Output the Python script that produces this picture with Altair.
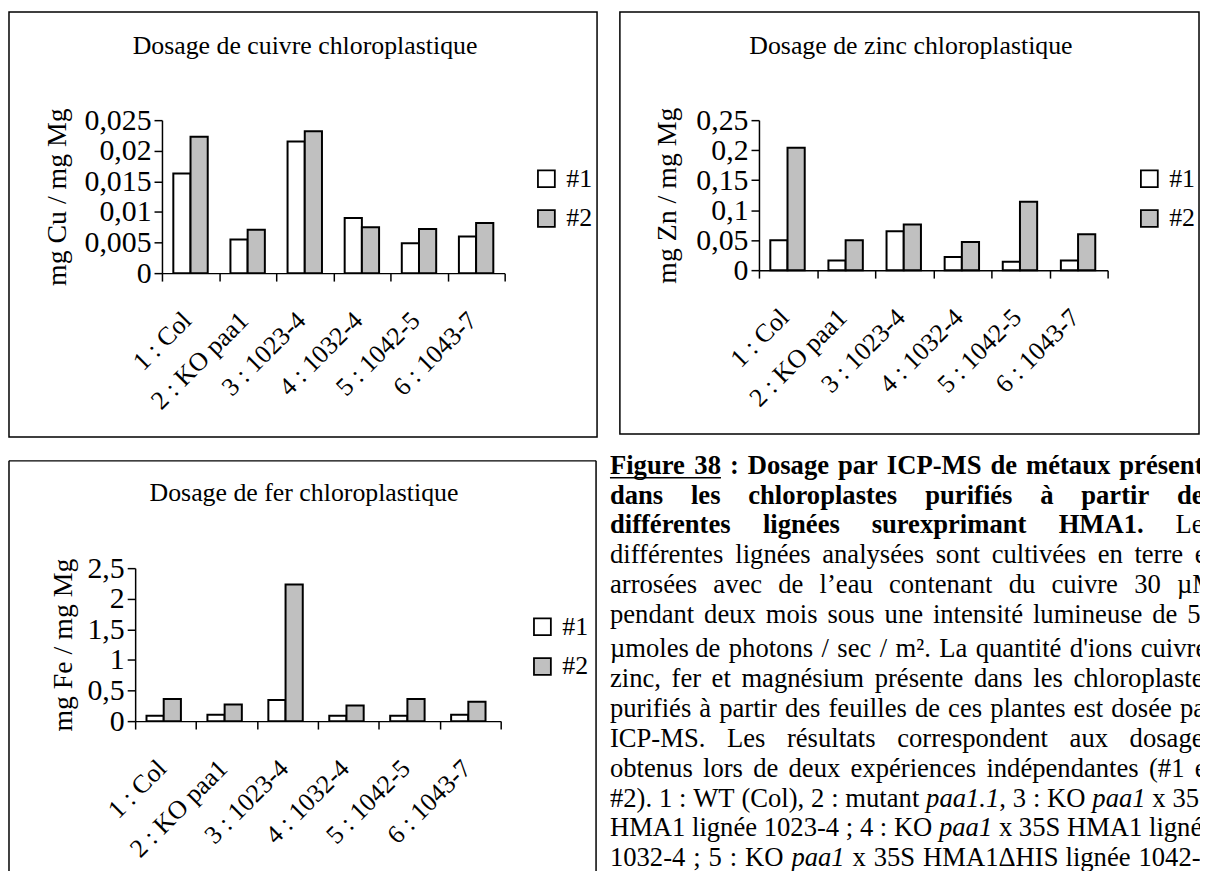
import altair as alt
import pandas as pd

FONT = "Liberation Serif"

# ---------------- data ----------------
categories = ["1 : Col", "2 : KO paa1", "3 : 1023-4", "4 : 1032-4", "5 : 1042-5", "6 : 1043-7"]
series = ["#1", "#2"]

cu_exp1 = [0.0163, 0.0055, 0.0215, 0.0090, 0.0049, 0.0060]
cu_exp2 = [0.0223, 0.0071, 0.0232, 0.0075, 0.0072, 0.0082]
zn_exp1 = [0.050, 0.016, 0.065, 0.022, 0.014, 0.016]
zn_exp2 = [0.204, 0.050, 0.076, 0.047, 0.114, 0.060]
fe_exp1 = [0.087, 0.103, 0.347, 0.087, 0.087, 0.103]
fe_exp2 = [0.363, 0.271, 2.234, 0.255, 0.363, 0.315]

cu_ticks = [0, 0.005, 0.01, 0.015, 0.02, 0.025]
zn_ticks = [0, 0.05, 0.1, 0.15, 0.2, 0.25]
fe_ticks = [0, 0.5, 1, 1.5, 2, 2.5]

titles = ["Dosage de cuivre chloroplastique", "Dosage de zinc chloroplastique",
          "Dosage de fer chloroplastique"]
y_titles = ["mg Cu / mg Mg", "mg Zn / mg Mg", "mg Fe / mg Mg"]

caption_lines = [
    [("bu", "Figure 38"), ("b", " : Dosage par ICP-MS de métaux présents")],
    [("b", "dans les chloroplastes purifiés à partir des")],
    [("b", "différentes lignées surexprimant HMA1."), ("n", " Les")],
    [("n", "différentes lignées analysées sont cultivées en terre et")],
    [("n", "arrosées avec de l’eau contenant du cuivre 30 µM")],
    [("n", "pendant deux mois sous une intensité lumineuse de 50")],
    [("n", "µmoles de photons / sec / m². La quantité d'ions cuivre,")],
    [("n", "zinc, fer et magnésium présente dans les chloroplastes")],
    [("n", "purifiés à partir des feuilles de ces plantes est dosée par")],
    [("n", "ICP-MS. Les résultats correspondent aux dosages")],
    [("n", "obtenus lors de deux expériences indépendantes (#1 et")],
    [("n", "#2). 1 : WT (Col), 2 : mutant "), ("i", "paa1.1"), ("n", ", 3 : KO "), ("i", "paa1"), ("n", " x 35S")],
    [("n", "HMA1 lignée 1023-4 ; 4 : KO "), ("i", "paa1"), ("n", " x 35S HMA1 lignée")],
    [("n", "1032-4 ; 5 : KO "), ("i", "paa1"), ("n", " x 35S HMA1ΔHIS lignée 1042-5")],
]

# ---------------- layout (pixels inside each cell) ----------------
L1 = dict(W=592, H=430, box=(0, 592, 1, 429), bottom=True, xr=(154, 499), yr=(264, 110),
          title_xy=(298, 35), ytitle_x=49, legend_xy=(528, 156))
L2 = dict(W=594, H=430, box=(10, 593, 1, 426), bottom=True, xr=(150, 501), yr=(261, 110),
          title_xy=(303, 35), ytitle_x=58, legend_xy=(530, 156))
L3 = dict(W=592, H=426, box=(0, 591, 13, 426), bottom=False, xr=(127, 495), yr=(275, 121),
          title_xy=(297, 45), ytitle_x=55, legend_xy=(524, 167))

one = pd.DataFrame({"k": [0]})


def panel(v1, v2, ticks, title, ytitle, L):
    df = pd.DataFrame({
        "cat": categories * 2,
        "serie": [series[0]] * len(categories) + [series[1]] * len(categories),
        "val": list(v1) + list(v2),
    })
    x0, x1 = L["xr"]
    y0, y1 = L["yr"]
    H = L["H"]
    bars = alt.Chart(df).mark_bar(stroke="black", strokeWidth=2).encode(
        x=alt.X("cat:N", sort=categories, title=None,
                scale=alt.Scale(range=[x0, x1], paddingInner=0, paddingOuter=0),
                axis=alt.Axis(orient="bottom", offset=y0 - H, tickBand="extent", tickSize=8,
                              tickColor="black", tickWidth=1.5, domainColor="black", domainWidth=1.5,
                              labelAngle=315, labelAlign="right", labelBaseline="top",
                              labelOffset=-13, labelPadding=26, labelFont=FONT, labelFontSize=26,
                              labelColor="black", labelOverlap=False, labelBound=False,
                              labelFlush=False, labelLimit=400, grid=False)),
        xOffset=alt.XOffset("serie:N", sort=series,
                            scale=alt.Scale(paddingInner=0, paddingOuter=0.66)),
        y=alt.Y("val:Q", title=ytitle,
                scale=alt.Scale(domain=[0, ticks[-1]], range=[y0, y1], nice=False, zero=True),
                axis=alt.Axis(orient="left", offset=-x0, values=ticks,
                              labelExpr="replace(format(datum.value, '~g'), '.', ',')",
                              tickSize=8, tickColor="black", tickWidth=1.5,
                              domainColor="black", domainWidth=1.5,
                              labelFont=FONT, labelFontSize=30, labelColor="black", labelPadding=3,
                              titleX=L["ytitle_x"] - x0, titleY=(y0 + y1) / 2, titleAngle=270,
                              titleAlign="center", titleBaseline="middle", titleFont=FONT,
                              titleFontSize=28, titleFontWeight="normal", titleColor="black",
                              grid=False)),
        color=alt.Color("serie:N", sort=series, title=None,
                        scale=alt.Scale(domain=series, range=["white", "#c0c0c0"]),
                        legend=alt.Legend(orient="none", legendX=L["legend_xy"][0],
                                          legendY=L["legend_xy"][1], symbolType="square",
                                          symbolSize=289, symbolStrokeColor="black",
                                          symbolStrokeWidth=1.8, labelFont=FONT, labelFontSize=26,
                                          labelColor="black", labelOffset=7, rowPadding=14,
                                          padding=0)),
    )
    bx0, bx1, by0, by1 = L["box"]
    layers = []
    if L["bottom"]:
        layers.append(alt.Chart(one).mark_rect(fill="transparent", stroke="black", strokeWidth=1.5)
                      .encode(x=alt.value(bx0), x2=alt.value(bx1), y=alt.value(by0), y2=alt.value(by1)))
    else:
        rule = alt.Chart(one).mark_rule(color="black", strokeWidth=1.5)
        layers.append(rule.encode(x=alt.value(bx0), x2=alt.value(bx1), y=alt.value(by0)))
        layers.append(rule.encode(x=alt.value(bx0), y=alt.value(by0), y2=alt.value(by1)))
        layers.append(rule.encode(x=alt.value(bx1), y=alt.value(by0), y2=alt.value(by1)))
    layers.append(bars)
    layers.append(alt.Chart(pd.DataFrame({"t": [title]})).mark_text(
        font=FONT, fontSize=26, align="center", baseline="middle", color="black")
        .encode(x=alt.value(L["title_xy"][0]), y=alt.value(L["title_xy"][1]), text="t:N"))
    return alt.layer(*layers).properties(width=L["W"], height=L["H"])


p1 = panel(cu_exp1, cu_exp2, cu_ticks, titles[0], y_titles[0], L1)
p2 = panel(zn_exp1, zn_exp2, zn_ticks, titles[1], y_titles[1], L2)
p3 = panel(fe_exp1, fe_exp2, fe_ticks, titles[2], y_titles[2], L3)

# ---------------- caption (justified text, Times metrics) ----------------
REG = {" ": 250, "#": 500, "(": 333, ")": 333, ",": 250, "-": 333, ".": 250, "/": 278, ":": 278,
       ";": 278, "'": 180, "’": 333, "é": 444, "à": 444, "µ": 500, "²": 300, "Δ": 612,
       "A": 722, "B": 667, "C": 667, "D": 722, "E": 611, "F": 556, "G": 722, "H": 722, "I": 333,
       "J": 389, "K": 722, "L": 611, "M": 889, "N": 722, "O": 722, "P": 556, "Q": 722, "R": 667,
       "S": 556, "T": 611, "U": 722, "V": 722, "W": 944, "X": 722, "Y": 722, "Z": 611,
       "a": 444, "b": 500, "c": 444, "d": 500, "e": 444, "f": 333, "g": 500, "h": 500, "i": 278,
       "j": 278, "k": 500, "l": 278, "m": 778, "n": 500, "o": 500, "p": 500, "q": 500, "r": 333,
       "s": 389, "t": 278, "u": 500, "v": 500, "w": 722, "x": 500, "y": 500, "z": 444}
BOLD = dict(REG)
BOLD.update({":": 333, ";": 333, "A": 722, "C": 722, "D": 722, "E": 667, "F": 611, "G": 778,
             "H": 778, "I": 389, "K": 778, "L": 667, "M": 944, "O": 778, "P": 611, "S": 556,
             "T": 667, "a": 500, "b": 556, "d": 556, "h": 556, "j": 333, "k": 556, "m": 833,
             "n": 556, "p": 556, "q": 556, "r": 444, "t": 333, "u": 556, "à": 500})
ITAL = dict(REG)
ITAL.update({"a": 500})

CFS = 26.8
JUSTIFY_W = 608
baselines = [26, 56, 86, 116, 146, 176, 210, 241, 271, 301, 331, 361, 391, 421]


def tw(text, style):
    table = BOLD if style in ("b", "bu") else (ITAL if style == "i" else REG)
    return sum(table.get(c, 500) for c in text) / 1000.0 * CFS


rows = []
under = []
for li, segs in enumerate(caption_lines):
    words = []
    new_word = True
    for style, text in segs:
        parts = text.split(" ")
        for k, p in enumerate(parts):
            if k > 0:
                new_word = True
            if p == "":
                continue
            if new_word or not words:
                words.append([(style, p)])
                new_word = False
            else:
                words[-1].append((style, p))
    widths = [sum(tw(t, s) for s, t in w) for w in words]
    space = 0.25 * CFS
    natural = sum(widths) + space * (len(words) - 1)
    gap = space + max(0.0, JUSTIFY_W - natural) / max(1, len(words) - 1)
    x = 0.0
    for w, wd in zip(words, widths):
        px = x
        for s, t in w:
            rows.append({"x": px, "y": baselines[li], "text": t,
                         "st": "b" if s in ("b", "bu") else s})
            if s == "bu":
                under.append((px, px + tw(t, s), baselines[li]))
            px += tw(t, s)
        x += wd + gap

cap_df = pd.DataFrame(rows)
cap_layers = []
for st, weight, fstyle in [("n", "normal", "normal"), ("b", "bold", "normal"), ("i", "normal", "italic")]:
    cap_layers.append(
        alt.Chart(cap_df).transform_filter(alt.datum.st == st).mark_text(
            font=FONT, fontSize=CFS, fontWeight=weight, fontStyle=fstyle, align="left",
            baseline="alphabetic", color="black", clip=True)
        .encode(x=alt.X("x:Q", scale=None, axis=None), y=alt.Y("y:Q", scale=None, axis=None),
                text="text:N"))
ux0 = min(u[0] for u in under)
ux1 = max(u[1] for u in under)
uy = under[0][2] + 4
cap_layers.append(alt.Chart(one).mark_rule(color="black", strokeWidth=1.5)
                  .encode(x=alt.value(ux0), x2=alt.value(ux1), y=alt.value(uy)))
cap = alt.layer(*cap_layers).properties(width=594, height=426)

chart = (
    alt.concat(p1, p2, p3, cap, columns=2, spacing={"row": 10, "column": 13}, bounds="flush")
    .resolve_scale(color="independent")
    .resolve_legend(color="independent")
    .properties(padding=0)
    .configure_view(strokeWidth=0)
)

chart.save("out.html", embed_options={"renderer": "svg", "actions": False})
